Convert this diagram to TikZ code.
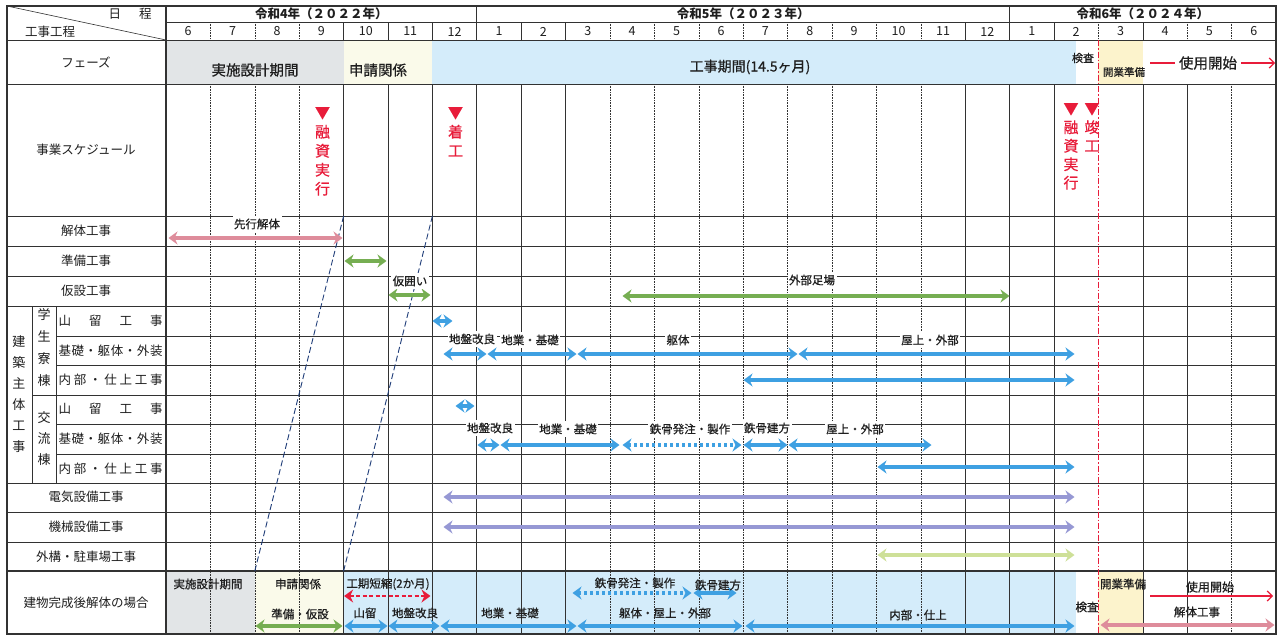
\documentclass[tikz,border=0pt]{standalone}
\usepackage{fontspec}
\setmainfont{Noto Sans CJK JP}
\newfontfamily\semib[FakeBold=0.6]{Noto Sans CJK JP}
\usetikzlibrary{arrows.meta}
\definecolor{redc}{RGB}{232,28,58}
\definecolor{pinkc}{RGB}{222,140,155}
\definecolor{greenc}{RGB}{118,174,82}
\definecolor{bluec}{RGB}{62,160,226}
\definecolor{lavc}{RGB}{150,152,212}
\definecolor{ygc}{RGB}{206,224,152}
\definecolor{grayb}{RGB}{226,229,231}
\definecolor{creamb}{RGB}{250,250,234}
\definecolor{creamy}{RGB}{252,243,204}
\definecolor{blueb}{RGB}{212,236,250}
\definecolor{navyc}{RGB}{30,60,120}
\definecolor{gridc}{RGB}{50,50,50}
\definecolor{txtc}{RGB}{30,30,30}
\newcommand\fsz[2]{\fontsize{#1}{#2}\selectfont}
\newcommand\garr[4]{\draw[dbl,#1] (#2,#4) -- (#3,#4);}
\tikzset{
  gsolid/.style={draw=gridc,line width=0.6pt},
  gthick/.style={draw=gridc,line width=1.1pt},
  gdot/.style={draw=gridc,line width=0.6pt,dash pattern=on 0.8pt off 0.8pt},
  dbl/.style={line width=3.6pt,{Stealth[length=9pt,width=13pt]}-{Stealth[length=9pt,width=13pt]},shorten <=0.5pt,shorten >=0.5pt},
  lbl/.style={font=\fsz{12.5}{15},text=txtc,inner sep=0pt},
  mlbl/.style={font=\fsz{12.5}{14},text=txtc,inner sep=0pt},
  ylbl/.style={font=\fsz{12.5}{15}\bfseries,text=txtc,inner sep=0pt},
  blbl/.style={font=\semib\fsz{11.5}{13},text=txtc,fill=white,inner xsep=1.5pt,inner ysep=3pt},
  tlbl/.style={font=\semib\fsz{11.5}{13},text=txtc,inner sep=0pt},
  plbl/.style={font=\semib\fsz{14.5}{16},text=txtc,inner sep=0pt},
  vlbl/.style={font=\fsz{13}{21},text=txtc,align=center,inner sep=0pt},
  redv/.style={font=\semib\fsz{15}{19},text=redc,align=center,inner sep=0pt,anchor=north},
}
\begin{document}
\begin{tikzpicture}[x=1pt,y=-1pt]
\useasboundingbox (0,0) rectangle (1288,637);
\fill[white] (0,0) rectangle (1288,637);
% backgrounds
\fill[grayb] (166,40) rectangle (343.6,84);
\fill[creamb] (343.6,40) rectangle (432.4,84);
\fill[blueb] (432.4,40) rectangle (1076,84);
\fill[creamy] (1098.4,40) rectangle (1142.8,84);
\fill[grayb] (166,571) rectangle (254.8,634);
\fill[creamb] (254.8,571) rectangle (343.6,634);
\fill[blueb] (343.6,571) rectangle (1076,634);
\fill[creamy] (1098.4,571) rectangle (1142.8,634);
% horizontal lines
\draw[gsolid] (166,22) -- (1276,22);
\foreach \y in {40,84,216,246,276,306,483,512,542} \draw[gsolid] (7,\y) -- (1276,\y);
\foreach \y in {336,365,424,454} \draw[gsolid] (56,\y) -- (1276,\y);
\draw[gsolid] (32,395) -- (1276,395);
\draw[gthick] (7,571) -- (1276,571);
\draw[gsolid] (32,306) -- (32,483);
\draw[gsolid] (56,306) -- (56,483);
% header verticals
\foreach \i in {7,19} \draw[gthick] ({166+44.4*\i},6) -- ({166+44.4*\i},40);
\foreach \i in {4,5,6,8,9,18,20,22} \draw[gsolid] ({166+44.4*\i},22) -- ({166+44.4*\i},40);
\foreach \i in {1,2,3,10,11,12,13,14,15,16,17,21,23,24} \draw[gdot] ({166+44.4*\i},22) -- ({166+44.4*\i},40);
% body verticals
\foreach \i in {7,19} \draw[gthick] ({166+44.4*\i},84) -- ({166+44.4*\i},634);
\foreach \i in {4,5,6,8,9,18,20,22,23} \draw[gsolid] ({166+44.4*\i},84) -- ({166+44.4*\i},634);
\foreach \i in {1,2,3,10,11,12,13,14,15,16,17,24} \draw[gdot] ({166+44.4*\i},84) -- ({166+44.4*\i},634);
% frame
\draw[gthick] (7,6) rectangle (1276,634);
\draw[gthick] (166,6) -- (166,634);
\draw[gsolid] (7,6) -- (166,40);
% red dash-dot line
\draw[redc,line width=1.3pt,dash pattern=on 6pt off 2pt on 1.5pt off 2pt] (1098.4,40) -- (1098.4,634);
% diagonals
\draw[navyc,line width=0.9pt,dash pattern=on 6pt off 3pt] (343.6,216) -- (254.8,571);
\draw[navyc,line width=0.9pt,dash pattern=on 6pt off 3pt] (432.4,216) -- (343.6,571);
% header text
\node[mlbl] (hday) at (130,14) {日\hspace{18pt}程};
\node[mlbl] (hkou) at (50,32) {工事工程};
\node[ylbl] (y4) at (321.4,14) {令和4年（２０２２年）};
\node[ylbl] (y5) at (743.2,14) {令和5年（２０２３年）};
\node[ylbl] (y6) at (1142.8,14) {令和6年（２０２４年）};
\foreach \m [count=\i from 0] in {6,7,8,9,10,11,12,1,2,3,4,5,6,7,8,9,10,11,12,1,2,3,4,5,6}
  \node[mlbl] (m\i) at ({166+44.4*(\i+0.5)},31.5) {\m};
% left labels
\node[lbl] (lphase) at (86,62) {フェーズ};
\node[lbl] (lsched) at (86,150) {事業スケジュール};
\node[lbl] (lkai) at (86,231) {解体工事};
\node[lbl] (ljun) at (86,261) {準備工事};
\node[lbl] (lkasetsu) at (86,291) {仮設工事};
\node[vlbl] (lken) at (19,394.5) {建\\築\\主\\体\\工\\事};
\node[vlbl,font=\fsz{13}{22}] (lgaku) at (44,348) {学\\生\\寮\\棟};
\node[vlbl] (lkoryu) at (44,439) {交\\流\\棟};
\node[lbl] (g1) at (110.5,321) {\makebox[104pt][s]{山\hfill 留\hfill 工\hfill 事}};
\node[lbl] (g2) at (110.5,351) {\makebox[104pt][s]{基\hfill 礎\hfill ・\hfill 躯\hfill 体\hfill ・\hfill 外\hfill 装}};
\node[lbl] (g3) at (110.5,380) {\makebox[104pt][s]{内\hfill 部\hfill ・\hfill 仕\hfill 上\hfill 工\hfill 事}};
\node[lbl] (k1) at (110.5,409) {\makebox[104pt][s]{山\hfill 留\hfill 工\hfill 事}};
\node[lbl] (k2) at (110.5,439) {\makebox[104pt][s]{基\hfill 礎\hfill ・\hfill 躯\hfill 体\hfill ・\hfill 外\hfill 装}};
\node[lbl] (k3) at (110.5,469) {\makebox[104pt][s]{内\hfill 部\hfill ・\hfill 仕\hfill 上\hfill 工\hfill 事}};
\node[lbl] (lden) at (86,497) {電気設備工事};
\node[lbl] (lkik) at (86,527) {機械設備工事};
\node[lbl] (lgai) at (86,557) {外構・駐車場工事};
\node[lbl] (lkan) at (86,603) {建物完成後解体の場合};
% phase row
\node[plbl] (p1) at (255,70) {実施設計期間};
\node[plbl] (p2) at (378,70) {申請関係};
\node[plbl,font=\semib\fsz{14}{16}] (p3) at (750,67) {工事期間(14.5ヶ月)};
\node[tlbl,font=\semib\fsz{11}{13}] (p4) at (1083,58) {検査};
\node[tlbl,font=\semib\fsz{10.5}{12}] (p5) at (1124,72) {開業準備};
\draw[redc,line width=1.2pt,-{Straight Barb[length=5pt,width=10pt]}] (1150,63) -- (1275,63);
\node[plbl,fill=white,inner xsep=4pt,inner ysep=2pt] (p6) at (1208,63) {使用開始};
% schedule markers
\node[redv] (r1) at (322.5,107) {▼\\融\\資\\実\\行};
\node[redv] (r2) at (455.5,107) {▼\\着\\工};
\node[redv,font=\semib\fsz{15}{18.5}] (r3) at (1071,103) {▼\\融\\資\\実\\行};
\node[redv,font=\semib\fsz{15}{18.5}] (r4) at (1092,103) {▼\\竣\\工};
% bars
\garr{pinkc}{168}{343}{238}
\garr{greenc}{344}{387}{261}
\garr{greenc}{388}{431}{295}
\garr{greenc}{622}{1010}{296}
\garr{bluec}{432}{453}{321}
\garr{bluec}{443}{487}{354}
\garr{bluec}{487}{577}{354}
\garr{bluec}{577}{798}{354}
\garr{bluec}{798}{1075}{354}
\garr{bluec}{743}{1075}{380}
\garr{bluec}{455}{475}{406}
\garr{bluec}{477}{500}{445}
\garr{bluec}{500}{620}{445}
\draw[dbl,bluec,dash pattern=on 3pt off 3pt] (622,445) -- (742,445);
\garr{bluec}{743}{788}{445}
\garr{bluec}{788}{932}{445}
\garr{bluec}{877}{1075}{467}
\garr{lavc}{443}{1075}{497}
\garr{lavc}{443}{1075}{527}
\garr{ygc}{877}{1075}{555}
% bar labels
\node[blbl] (t1) at (257,224) {先行解体};
\node[blbl] (t2) at (410,281) {仮囲い};
\node[blbl] (t3) at (812,280) {外部足場};
\node[blbl] (t4) at (472,339) {地盤改良};
\node[blbl] (t5) at (530,340) {地業・基礎};
\node[blbl] (t6) at (678,340) {躯体};
\node[blbl] (t7) at (930,340) {屋上・外部};
\node[blbl] (t8) at (490,428) {地盤改良};
\node[blbl] (t9) at (568,429) {地業・基礎};
\node[blbl] (t10) at (690,429) {鉄骨発注・製作};
\node[blbl] (t11) at (767,428) {鉄骨建方};
\node[blbl] (t12) at (855,429) {屋上・外部};
% bottom row
\draw[dbl,redc,line width=2.4pt,dash pattern=on 4pt off 2.5pt] (343.6,596) -- (431,596);
\draw[dbl,bluec,dash pattern=on 3pt off 3pt] (572,593) -- (692,593);
\garr{bluec}{693}{737}{593}
\garr{greenc}{255}{343}{626}
\garr{bluec}{344}{388}{626}
\garr{bluec}{388}{440}{626}
\garr{bluec}{440}{577}{626}
\garr{bluec}{577}{743}{626}
\garr{bluec}{745}{1075}{626}
\garr{pinkc}{1100}{1275}{625}
\draw[redc,line width=1.2pt,-{Straight Barb[length=5pt,width=10pt]}] (1150,596) -- (1273,596);
\node[tlbl] (b1) at (208,584) {実施設計期間};
\node[tlbl] (b2) at (298,584) {申請関係};
\node[tlbl] (b3) at (388,584) {工期短縮(2か月)};
\node[tlbl] (b4) at (300,614) {準備・仮設};
\node[tlbl] (b5) at (365,613) {山留};
\node[tlbl] (b6) at (415,613) {地盤改良};
\node[tlbl] (b7) at (510,613) {地業・基礎};
\node[tlbl] (b8) at (665,613) {躯体・屋上・外部};
\node[tlbl] (b9) at (918,615) {内部・仕上};
\node[tlbl] (b10) at (635,583) {鉄骨発注・製作};
\node[tlbl] (b11) at (718,585) {鉄骨建方};
\node[tlbl] (b12) at (1087,607) {検査};
\node[tlbl] (b13) at (1123,584) {開業準備};
\node[tlbl,font=\semib\fsz{12}{14}] (b14) at (1210,587) {使用開始};
\node[tlbl] (b15) at (1197,612) {解体工事};
\end{tikzpicture}
\end{document}
